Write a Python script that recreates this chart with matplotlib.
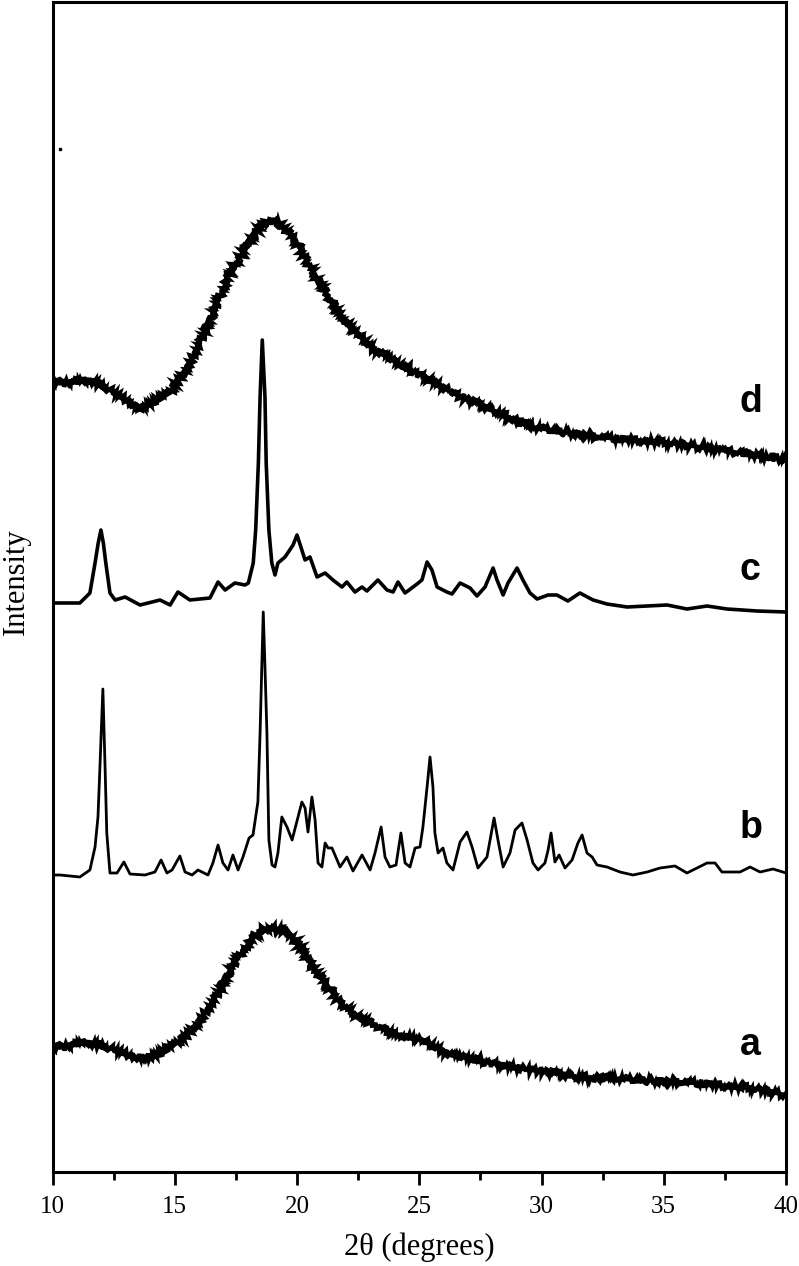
import matplotlib
matplotlib.use("Agg")
import matplotlib.pyplot as plt
import numpy as np

# ---- data (2theta in degrees, intensity in a.u.) ----
a_x = [10.00, 11.33, 12.35, 13.37, 13.99, 14.81, 15.42, 16.03, 16.65, 17.26, 17.87,
       18.40, 18.90, 19.43, 19.92, 20.53, 21.15, 21.76, 22.58, 23.60, 24.21, 25.03,
       26.26, 27.89, 29.53, 31.57, 34.03, 36.48, 38.53, 40.00]
a_y = [124, 130, 124, 115, 115, 124, 135, 152, 174, 202, 224,
       239, 245, 242, 232, 209, 189, 169, 154, 142, 137, 132,
       117, 109, 102, 95, 92, 89, 84, 77]

b_x = [10.00, 10.31, 11.12, 11.53, 11.74, 11.86, 11.94, 12.06, 12.15, 12.22, 12.35,
       12.64, 12.92, 13.17, 13.78, 14.19, 14.44, 14.68, 14.89, 15.21, 15.42, 15.71,
       15.95, 16.36, 16.56, 16.77, 16.97, 17.18, 17.38, 17.59, 17.79, 18.04, 18.20,
       18.40, 18.49, 18.56, 18.62, 18.69, 18.77, 18.85, 18.98, 19.10, 19.22, 19.38,
       19.59, 19.80, 20.20, 20.33, 20.45, 20.61, 20.74, 20.86, 21.02, 21.15, 21.27,
       21.43, 21.64, 21.76, 22.04, 22.29, 22.66, 22.99, 23.19, 23.44, 23.60, 23.80,
       24.05, 24.25, 24.42, 24.62, 24.83, 25.03, 25.15, 25.32, 25.44, 25.56, 25.64,
       25.77, 25.97, 26.13, 26.38, 26.67, 26.95, 27.16, 27.40, 27.77, 28.06, 28.22,
       28.43, 28.71, 28.92, 29.20, 29.41, 29.65, 29.86, 30.14, 30.27, 30.39, 30.55,
       30.72, 30.96, 31.25, 31.49, 31.66, 31.86, 32.07, 32.27, 32.68, 33.21, 33.74,
       34.32, 34.85, 35.46, 35.95, 36.77, 37.10, 37.38, 38.12, 38.53, 38.94, 39.47,
       40.00]
b_y = [297, 297, 295, 302, 325, 355, 405, 483, 405, 339, 299,
       299, 310, 298, 297, 300, 312, 299, 302, 316, 300, 297,
       302, 297, 309, 327, 309, 302, 317, 302, 315, 334, 337,
       370, 439, 505, 560, 505, 439, 332, 307, 305, 319, 355,
       345, 332, 370, 364, 340, 375, 352, 309, 305, 329, 324,
       324, 312, 305, 315, 301, 317, 302, 319, 345, 315, 305,
       307, 339, 309, 305, 324, 325, 345, 385, 415, 385, 339,
       319, 324, 309, 302, 330, 340, 325, 304, 315, 354, 332,
       305, 319, 342, 349, 332, 309, 302, 309, 322, 339, 310,
       317, 304, 312, 329, 337, 319, 315, 307, 305, 300, 297,
       300, 304, 306, 299, 309, 309, 300, 300, 305, 300, 303,
       299]

c_x = [10.00, 10.31, 11.12, 11.53, 11.74, 11.87, 11.98, 12.08, 12.18, 12.35, 12.56,
       12.97, 13.58, 14.40, 14.81, 15.13, 15.62, 16.44, 16.77, 17.06, 17.46, 17.87,
       18.01, 18.21, 18.31, 18.42, 18.49, 18.58, 18.69, 18.74, 18.85, 18.97, 19.10,
       19.22, 19.51, 19.84, 20.00, 20.33, 20.53, 20.82, 21.15, 21.47, 21.84, 22.04,
       22.37, 22.66, 22.86, 23.31, 23.68, 23.93, 24.13, 24.42, 24.91, 25.11, 25.32,
       25.52, 25.73, 26.13, 26.34, 26.67, 27.08, 27.36, 27.69, 28.02, 28.18, 28.43,
       28.63, 29.00, 29.24, 29.53, 29.82, 30.27, 30.63, 31.08, 31.57, 32.11, 32.68,
       33.50, 35.14, 35.95, 36.77, 37.59, 38.81, 40.00]
c_y = [569, 569, 569, 579, 609, 629, 642, 629, 609, 579, 572,
       575, 567, 572, 567, 580, 572, 574, 590, 582, 589, 587,
       589, 609, 642, 709, 775, 832, 775, 709, 642, 609, 597,
       609, 615, 627, 637, 612, 615, 595, 599, 592, 585, 590,
       580, 585, 581, 592, 582, 580, 590, 579, 588, 592, 610,
       602, 585, 580, 578, 589, 584, 576, 585, 604, 592, 577,
       589, 604, 592, 579, 573, 577, 577, 571, 579, 572, 568,
       565, 567, 563, 566, 563, 561, 560]

d_x = [10.00, 11.53, 12.35, 13.58, 14.81, 15.62, 16.44, 17.26, 18.08, 18.69, 19.30,
       19.92, 20.53, 21.35, 22.17, 22.99, 24.21, 25.44, 26.67, 28.30, 29.53, 32.39,
       34.85, 36.48, 38.12, 40.00]
d_y = [789, 792, 782, 764, 779, 809, 852, 899, 932, 950, 949,
       932, 905, 872, 845, 825, 807, 792, 775, 759, 745, 735,
       730, 725, 719, 712]

stray_x = [10.30]
stray_y = [1023]

labels = ["a", "b", "c", "d"]
label_y = [117, 334, 592, 760]
xticks = [10, 15, 20, 25, 30, 35, 40]

# ---- figure ----
W, H = 799, 1266
fig = plt.figure(figsize=(W / 100, H / 100), dpi=100)
ax = fig.add_axes([52.5 / W, (H - 1172) / H, 733.5 / W, 1170 / H])

for xs, ys in ((a_x, a_y), (d_x, d_y)):
    ln, = ax.plot(xs, ys, color="black", lw=3.0, solid_joinstyle="miter")
    ln.set_sketch_params(scale=3.5, length=3.0, randomness=3.0)
    ln2, = ax.plot(xs, ys, color="black", lw=3.0)
ax.plot(b_x, b_y, color="black", lw=2.0, solid_joinstyle="round")
ax.plot(c_x, c_y, color="black", lw=2.6, solid_joinstyle="round")
ax.plot(stray_x, stray_y, "s", color="black", ms=1.8)

for lab, ly in zip(labels, label_y):
    ax.text(38.1, ly, lab, fontsize=27, fontweight="bold",
            family="Liberation Sans", ha="left", va="baseline")

ax.set_xlim(10, 40)
ax.set_ylim(0, 1170)
ax.set_xticks(xticks)
ax.set_xticks(np.arange(12.5, 40, 5), minor=True)
ax.set_yticks([])
ax.tick_params(axis="x", which="major", direction="out", length=9, width=2,
               pad=8, labelsize=18)
ax.tick_params(axis="x", which="minor", direction="out", length=6, width=2)
for lab in ax.get_xticklabels():
    lab.set_family("Liberation Serif")
for s in ax.spines.values():
    s.set_linewidth(2.2)

ax.set_xlabel("2θ (degrees)", fontsize=22, family="Liberation Serif")
ax.xaxis.set_label_coords(0.5, -0.052)
fig.text(16 / W, 1 - 582 / H, "Intensity", fontsize=22, family="Liberation Serif",
         rotation=90, ha="center", va="center")

fig.savefig("out.png", dpi=100)
